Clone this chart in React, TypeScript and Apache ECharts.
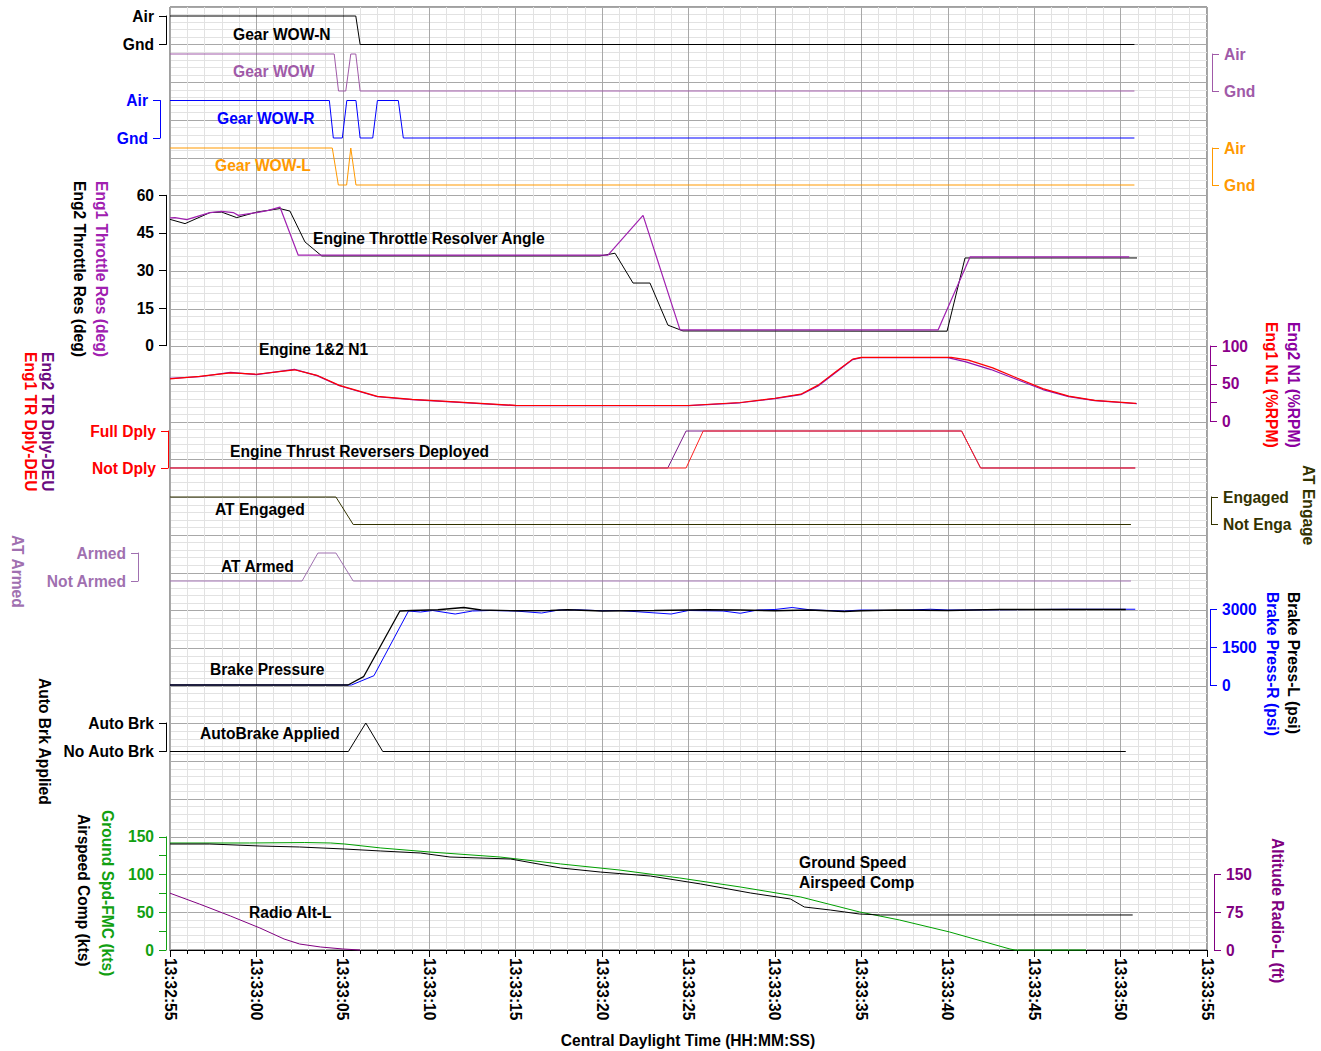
import React, { useEffect, useRef } from "react";
import * as echarts from "echarts";

// ---- time axis (seconds after 13:32:55) ----
const START_SEC = 13 * 3600 + 32 * 60 + 55;
const TIME_SPAN = 60;
const timeTickStep = 5;

// ---- discrete state labels ----
const gearStates = ["Gnd", "Air"];
const trStates = ["Not Dply", "Full Dply"];
const atEngStates = ["Not Enga", "Engaged"];
const atArmStates = ["Not Armed", "Armed"];
const autoBrkStates = ["No Auto Brk", "Auto Brk"];

// ---- gear weight-on-wheels (1 = Air, 0 = Gnd) ----
const gearWowN: [number, number][] = [[0, 1], [10.75, 1], [11.0, 0], [55.8, 0]];
const gearWow: [number, number][] = [[0, 1], [9.5, 1], [9.75, 0], [10.17, 0], [10.46, 1], [10.75, 1], [11.0, 0], [55.8, 0]];
const gearWowR: [number, number][] = [[0, 1], [9.22, 1], [9.45, 0], [9.97, 0], [10.23, 1], [10.76, 1], [11.0, 0], [11.73, 0], [12.0, 1], [13.21, 1], [13.5, 0], [55.8, 0]];
const gearWowL: [number, number][] = [[0, 1], [9.39, 1], [9.74, 0], [10.22, 0], [10.46, 1], [10.76, 0], [55.8, 0]];

// ---- throttle resolver angle (deg) ----
const eng1Tra: [number, number][] = [
  [0, 51.0], [0.29, 51.1], [0.97, 50.3], [2.31, 53.1], [2.99, 53.6], [3.66, 53.1], [3.95, 52.0],
  [5.02, 53.1], [5.69, 54.0], [6.36, 55.3], [7.42, 36.1], [25.34, 36.1], [27.37, 52.0], [29.51, 6.3],
  [44.44, 6.3], [46.29, 35.4], [55.5, 35.4],
];
const eng2Tra: [number, number][] = [
  [0, 50.4], [0.87, 48.7], [2.31, 53.1], [2.99, 53.3], [3.86, 51.1], [5.02, 53.3], [6.36, 54.7],
  [6.94, 53.7], [7.81, 41.4], [8.78, 35.8], [24.88, 35.8], [25.75, 36.9], [26.79, 25.0], [27.77, 25.0],
  [28.81, 8.2], [29.68, 5.9], [44.96, 5.8], [46.0, 35.0], [55.95, 35.0],
];

// ---- engine N1 (%RPM) ----
const eng1N1: [number, number][] = [
  [0, 56.5], [1.7, 59.8], [3.5, 64.5], [5, 62.6], [7.2, 68.5], [8.5, 61.2], [9.8, 47.9], [12, 33.3],
  [14, 29.2], [16, 26.6], [20, 21.3], [25, 21.2], [30, 21.2], [33, 25.2], [35, 30.8], [36.5, 36.2],
  [37.5, 48.2], [38.5, 65.6], [39.5, 82.6], [40, 85.0], [45.2, 85.0], [46.2, 81.2], [47.6, 71.0],
  [49, 57.6], [50.5, 43.5], [52, 33.6], [53.5, 28.0], [55.9, 24.0],
];
const eng2N1: [number, number][] = [
  [0, 57.0], [1.7, 59.3], [3.5, 65.0], [5, 62.0], [7.2, 69.0], [8.5, 60.8], [9.8, 47.4], [12, 32.8],
  [14, 28.9], [16, 26.3], [20, 21.0], [25, 21.0], [30, 21.0], [33, 24.8], [35, 30.2], [36.5, 35.5],
  [37.5, 47.0], [38.5, 64.5], [39.5, 82.0], [40, 84.6], [45, 84.6], [46, 79.4], [47.5, 68.8],
  [49, 55.6], [50.5, 42.3], [52, 33.0], [53.5, 27.7], [55.95, 23.5],
];

// ---- thrust reversers (1 = Full Dply, 0 = Not Dply) ----
const eng1Tr: [number, number][] = [[0, 0], [29.86, 0], [30.85, 1], [45.8, 1], [46.9, 0], [55.85, 0]];
const eng2Tr: [number, number][] = [[0, 0], [28.8, 0], [29.86, 1], [45.8, 1], [46.9, 0], [55.85, 0]];

// ---- autothrottle ----
const atEngaged: [number, number][] = [[0, 1], [9.6, 1], [10.6, 0], [55.6, 0]];
const atArmed: [number, number][] = [[0, 0], [7.64, 0], [8.56, 1], [9.6, 1], [10.6, 0], [55.6, 0]];

// ---- brake pressure (psi) ----
const brakeL: [number, number][] = [
  [0, 0], [10.3, 0], [11.2, 330], [13.3, 2940], [14, 2960], [15.5, 2990], [17, 3080], [18, 2980],
  [20, 2950], [22, 2960], [23, 2990], [25, 2940], [28, 2960], [31, 2990], [33, 2980], [35, 2950],
  [37, 2980], [39, 2920], [40, 2950], [42, 2980], [45, 2960], [48, 3000], [51, 3000], [55.3, 3000],
];
const brakeR: [number, number][] = [
  [0, 0], [10.5, 0], [11.8, 370], [13.8, 2940], [14.5, 2900], [15.2, 2960], [16.5, 2820], [17.5, 2940],
  [18.5, 2960], [20, 2940], [21.5, 2860], [22.5, 2980], [23.5, 2990], [25, 2950], [26, 2960], [29, 2820],
  [30, 2960], [32, 2940], [33, 2850], [34, 2980], [35, 3000], [36, 3080], [37, 2990], [39, 2940],
  [40, 2980], [42, 2960], [44, 3010], [45, 2980], [48, 2990], [50, 3000], [52, 3010], [55.85, 3010],
];

// ---- autobrake (1 = applied) ----
const autoBrake: [number, number][] = [[0, 0], [10.32, 0], [11.33, 1], [12.31, 0], [55.3, 0]];

// ---- speeds (kts) and radio altitude (ft) ----
const groundSpeed: [number, number][] = [
  [0, 141.8], [4.6, 141.8], [7.8, 142.4], [9.3, 141.8], [10.1, 140.5], [12.2, 135.2], [15, 129.9],
  [19.1, 123.2], [22.6, 114], [26, 106], [29.5, 95.4], [33, 83.5], [36.5, 70.2], [39.9, 50.4],
  [42.2, 39.8], [45.1, 23.9], [48.6, 1.3], [48.9, 0], [53, 0],
];
const airspeedComp: [number, number][] = [
  [0, 140.5], [2.3, 140.5], [5.2, 137.8], [7.5, 136.5], [10.1, 133.8], [12.2, 131.2], [14.5, 128.5],
  [16.2, 123.2], [19.7, 120.6], [22.6, 108.7], [24.9, 103.3], [27.8, 98], [30.7, 87.5], [33.6, 75.5],
  [35.9, 67.6], [36.7, 57], [38.2, 53], [39.9, 47.7], [41.1, 46.4], [55.7, 46.4],
];
const radioAlt: [number, number][] = [
  [0, 113], [1.7, 91.5], [3.5, 67.6], [5.2, 43.8], [6.6, 21.9], [7.5, 11.9], [8.7, 6], [10, 2], [11, 0],
];

const FONT = "'Liberation Sans', Arial, Helvetica, sans-serif";
const FONT_SIZE = 15.6;
const PLOT_LEFT = 170;
const PLOT_WIDTH = 1037;
const PLOT_TOP = 7;
const PLOT_HEIGHT = 943;
const TICK_LEN = 7;
const LABEL_MARGIN = 12;

type Panel = {
  top: number;
  height: number;
  min: number;
  max: number;
  interval: number;
  side: "left" | "right";
  offset: number;
  color: string;
  format: (v: number) => string;
};

const stateFmt = (states: string[]) => (v: number) => states[Math.round(v)] ?? "";
const everyFmt = (step: number) => (v: number) => (Math.abs(v % step) < 1e-6 ? String(v) : "");

const panels: Panel[] = [
  { top: 16, height: 28.5, min: 0, max: 1, interval: 1, side: "left", offset: 4, color: "#000000", format: stateFmt(gearStates) },
  { top: 54, height: 37, min: 0, max: 1, interval: 1, side: "right", offset: 5, color: "#a05aa8", format: stateFmt(gearStates) },
  { top: 100.5, height: 37.5, min: 0, max: 1, interval: 1, side: "left", offset: 10, color: "#0000ff", format: stateFmt(gearStates) },
  { top: 148, height: 37, min: 0, max: 1, interval: 1, side: "right", offset: 5, color: "#ff9900", format: stateFmt(gearStates) },
  { top: 195.3, height: 150.4, min: 0, max: 60, interval: 15, side: "left", offset: 4, color: "#000000", format: (v) => String(v) },
  { top: 346, height: 75.5, min: 0, max: 100, interval: 25, side: "right", offset: 3, color: "#8b008b", format: everyFmt(50) },
  { top: 431, height: 37, min: 0, max: 1, interval: 1, side: "left", offset: 2, color: "#ff0000", format: stateFmt(trStates) },
  { top: 497, height: 27.5, min: 0, max: 1, interval: 1, side: "right", offset: 4, color: "#333300", format: stateFmt(atEngStates) },
  { top: 553, height: 28, min: 0, max: 1, interval: 1, side: "left", offset: 32, color: "#a070b0", format: stateFmt(atArmStates) },
  { top: 609.5, height: 75.5, min: 0, max: 3000, interval: 1500, side: "right", offset: 3, color: "#0000ff", format: (v) => String(v) },
  { top: 723, height: 28.5, min: 0, max: 1, interval: 1, side: "left", offset: 4, color: "#000000", format: stateFmt(autoBrkStates) },
  { top: 836.8, height: 113.2, min: 0, max: 150, interval: 25, side: "left", offset: 4, color: "#11a011", format: everyFmt(50) },
  { top: 874.6, height: 75.4, min: 0, max: 150, interval: 75, side: "right", offset: 7, color: "#800080", format: (v) => String(v) },
];

// series: [panel index, data, colour, width]
const seriesDefs: [number, [number, number][], string, number][] = [
  [0, gearWowN, "#000000", 1],
  [1, gearWow, "#a05aa8", 1],
  [2, gearWowR, "#0000ff", 1],
  [3, gearWowL, "#ff9900", 1],
  [4, eng2Tra, "#000000", 1],
  [4, eng1Tra, "#a020b0", 1.2],
  [5, eng2N1, "#9010b0", 1.2],
  [5, eng1N1, "#ff0000", 1.2],
  [6, eng2Tr, "#7a1a8a", 1],
  [6, eng1Tr, "#ff2020", 1],
  [7, atEngaged, "#333300", 1],
  [8, atArmed, "#a070b0", 1],
  [9, brakeR, "#0000ff", 1],
  [9, brakeL, "#000000", 1.3],
  [10, autoBrake, "#000000", 1],
  [11, groundSpeed, "#00a000", 1],
  [11, airspeedComp, "#000000", 1],
  [12, radioAlt, "#800080", 1],
];

const pad = (n: number) => (n < 10 ? "0" + n : String(n));
const timeLabel = (v: number) => {
  const t = START_SEC + Math.round(v);
  return `${Math.floor(t / 3600)}:${pad(Math.floor((t % 3600) / 60))}:${pad(t % 60)}`;
};

const textStyle = (text: string, color: string, size = FONT_SIZE) => ({
  text,
  fill: color,
  fontSize: size,
  fontWeight: "bold",
  fontFamily: FONT,
  textAlign: "left",
  textVerticalAlign: "middle",
});

// in-plot trace captions
const captions: [string, number, number, string][] = [
  ["Gear WOW-N", 233, 34, "#000000"],
  ["Gear WOW", 233, 71, "#a05aa8"],
  ["Gear WOW-R", 217, 118, "#0000ff"],
  ["Gear WOW-L", 215, 165, "#ff9900"],
  ["Engine Throttle Resolver Angle", 313, 238, "#000000"],
  ["Engine 1&2 N1", 259, 349, "#000000"],
  ["Engine Thrust Reversers Deployed", 230, 451, "#000000"],
  ["AT Engaged", 215, 509, "#000000"],
  ["AT Armed", 221, 566, "#000000"],
  ["Brake Pressure", 210, 669, "#000000"],
  ["AutoBrake Applied", 200, 733, "#000000"],
  ["Ground Speed", 799, 862, "#000000"],
  ["Airspeed Comp", 799, 882, "#000000"],
  ["Radio Alt-L", 249, 912, "#000000"],
];

// vertical axis names, read top to bottom
const axisNames: [string, number, number, string][] = [
  ["Eng1 Throttle Res (deg)", 101, 181, "#a020b0"],
  ["Eng2 Throttle Res (deg)", 79, 181, "#000000"],
  ["Eng2 N1 (%RPM)", 1293, 322, "#8b00a0"],
  ["Eng1 N1 (%RPM)", 1271, 322, "#ff0000"],
  ["Eng2 TR Dply-DEU", 47, 352, "#6a0a80"],
  ["Eng1 TR Dply-DEU", 30, 352, "#ff0000"],
  ["AT Engage", 1308, 465, "#333300"],
  ["AT Armed", 17, 535, "#a070b0"],
  ["Brake Press-L (psi)", 1293, 592, "#000000"],
  ["Brake Press-R (psi)", 1272, 592, "#0000ff"],
  ["Auto Brk Applied", 44, 678, "#000000"],
  ["Ground Spd-FMC (kts)", 107, 810, "#11a011"],
  ["Airspeed Comp (kts)", 83, 814, "#000000"],
  ["Altitude Radio-L (ft)", 1277, 838, "#800080"],
];

const xAxisTitle = "Central Daylight Time (HH:MM:SS)";

function buildOption() {
  const grids: any[] = [
    {
      left: PLOT_LEFT, top: PLOT_TOP, width: PLOT_WIDTH, height: PLOT_HEIGHT,
      show: true, borderColor: "#404040", borderWidth: 1, backgroundColor: "#ffffff",
      containLabel: false, outerBoundsMode: "none",
    },
  ];
  const xAxes: any[] = [
    {
      type: "value", gridIndex: 0, min: 0, max: TIME_SPAN, interval: timeTickStep,
      axisLine: { show: true, onZero: false, lineStyle: { color: "#000000", width: 1 } },
      axisTick: { show: true, length: 7, lineStyle: { color: "#000000" } },
      minorTick: { show: true, splitNumber: 5, length: 4, lineStyle: { color: "#000000" } },
      splitLine: { show: true, lineStyle: { color: "#a8a8a8", width: 1 } },
      minorSplitLine: { show: true, lineStyle: { color: "#e2e2e2", width: 1 } },
      axisLabel: {
        rotate: -90, margin: 8, color: "#000000", fontSize: FONT_SIZE, fontWeight: "bold", fontFamily: FONT,
        formatter: timeLabel, showMinLabel: true, showMaxLabel: true,
      },
    },
  ];
  const yAxes: any[] = [
    {
      type: "value", gridIndex: 0, min: 0, max: 25, interval: 1,
      axisLine: { show: false, onZero: false }, axisTick: { show: false }, axisLabel: { show: false },
      minorTick: { show: false, splitNumber: 5 },
      splitLine: { show: true, lineStyle: { color: "#a8a8a8", width: 1 } },
      minorSplitLine: { show: true, lineStyle: { color: "#e2e2e2", width: 1 } },
    },
  ];

  panels.forEach((p, i) => {
    const gi = i + 1;
    grids.push({
      left: PLOT_LEFT, width: PLOT_WIDTH, top: p.top, height: p.height,
      show: false, containLabel: false, outerBoundsMode: "none",
    });
    xAxes.push({
      type: "value", gridIndex: gi, min: 0, max: TIME_SPAN, show: false,
      axisLine: { onZero: false },
      splitLine: { show: false },
    });
    yAxes.push({
      type: "value", gridIndex: gi, min: p.min, max: p.max, interval: p.interval,
      position: p.side, offset: p.offset,
      axisLine: { show: true, onZero: false, lineStyle: { color: p.color, width: 1 } },
      axisTick: { show: true, length: TICK_LEN, lineStyle: { color: p.color, width: 1 } },
      axisLabel: {
        show: true, margin: LABEL_MARGIN, color: p.color, fontSize: FONT_SIZE, fontWeight: "bold", fontFamily: FONT,
        formatter: p.format, showMinLabel: true, showMaxLabel: true,
      },
      splitLine: { show: false },
    });
  });

  const series = seriesDefs.map(([pi, data, color, width]) => ({
    type: "line",
    xAxisIndex: pi + 1,
    yAxisIndex: pi + 1,
    data,
    color,
    symbol: "none",
    showSymbol: false,
    silent: true,
    clip: false,
    lineStyle: { color, width },
  }));

  const graphic: any[] = [
    ...captions.map(([text, x, y, color]) => ({
      type: "text", x, y, z: 100, style: textStyle(text, color),
    })),
    ...axisNames.map(([text, x, y, color]) => ({
      type: "text", x, y, rotation: -Math.PI / 2, z: 100, style: textStyle(text, color),
    })),
    {
      type: "text", x: 688, y: 1040, z: 100,
      style: { ...textStyle(xAxisTitle, "#000000"), textAlign: "center" },
    },
  ];

  return {
    animation: false,
    backgroundColor: "#ffffff",
    grid: grids,
    xAxis: xAxes,
    yAxis: yAxes,
    series,
    graphic,
  };
}

export default function App() {
  const ref = useRef<HTMLDivElement>(null);
  useEffect(() => {
    if (!ref.current) return;
    const chart = echarts.init(ref.current, undefined, { renderer: "svg" });
    chart.setOption(buildOption() as any);
    return () => chart.dispose();
  }, []);
  return (
    <div
      ref={ref}
      style={{ position: "absolute", left: 0, top: 0, width: 1321, height: 1051, background: "#ffffff" }}
    />
  );
}
